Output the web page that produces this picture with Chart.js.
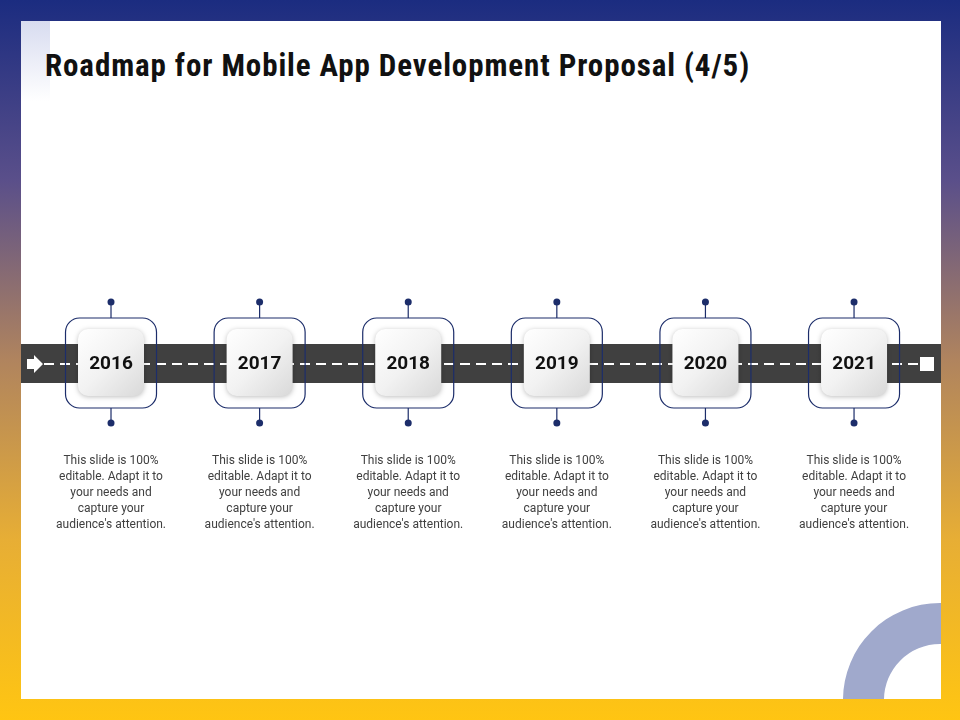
<!DOCTYPE html>
<html><head><meta charset="utf-8">
<script src="https://cdn.jsdelivr.net/npm/chart.js@4"></script>
<style>
html,body{margin:0;padding:0;}
body{width:960px;height:720px;overflow:hidden;background:linear-gradient(180deg,#1b2c80 0%,#5a4f8a 25%,#b0845e 50%,#e7ae35 75%,#ffc512 100%);position:relative;font-family:Roboto,Arial,sans-serif;}
#panel{position:absolute;left:21px;top:21px;width:920px;height:678px;background:#fff;overflow:hidden;}
#deco{position:absolute;left:0;top:0;width:29px;height:80px;background:linear-gradient(180deg,#d8dcf0,#ffffff);}
h1{position:absolute;left:24px;top:26px;margin:0;font-family:"Roboto Condensed","Liberation Sans Narrow",Roboto,sans-serif;font-weight:700;font-size:31px;color:#111;letter-spacing:0.9px;white-space:nowrap;}
canvas{position:absolute;left:0;top:0;}
</style></head><body>
<div id="panel"><div id="deco"></div><h1>Roadmap for Mobile App Development Proposal (4/5)</h1></div>
<canvas id="c" width="960" height="720"></canvas>
<script>
const years = ["2016","2017","2018","2019","2020","2021"];
const positions = [0,1,2,3,4,5];
const descriptions = ["This slide is 100%","editable. Adapt it to","your needs and","capture your","audience's attention."];

function rr(ctx,x,y,w,h,r){ctx.beginPath();ctx.moveTo(x+r,y);ctx.arcTo(x+w,y,x+w,y+h,r);ctx.arcTo(x+w,y+h,x,y+h,r);ctx.arcTo(x,y+h,x,y,r);ctx.arcTo(x,y,x+w,y,r);ctx.closePath();}

const deco = {
  id:'deco',
  beforeDatasetsDraw(chart){
    const ctx=chart.ctx;
    ctx.save();
    ctx.beginPath();ctx.rect(21,21,920,678);ctx.clip();
    ctx.fillStyle='#a0a9cc';
    ctx.beginPath();ctx.arc(940,700,97,0,Math.PI*2);ctx.arc(940,700,56,0,Math.PI*2,true);ctx.fill('evenodd');
    ctx.fillStyle='#404040';
    ctx.fillRect(21,344,920,39);
    ctx.strokeStyle='#fff';ctx.lineWidth=2;ctx.setLineDash([10,6]);
    ctx.beginPath();ctx.moveTo(44,364);ctx.lineTo(920,364);ctx.stroke();ctx.setLineDash([]);
    ctx.fillStyle='#fff';
    ctx.beginPath();ctx.moveTo(27,359);ctx.lineTo(34,359);ctx.lineTo(34,355);ctx.lineTo(43,364);ctx.lineTo(34,373);ctx.lineTo(34,369);ctx.lineTo(27,369);ctx.closePath();ctx.fill();
    ctx.fillRect(920,357,14,14);
    ctx.restore();
  },
  afterDatasetsDraw(chart){
    const ctx=chart.ctx, xs=chart.scales.x;
    positions.forEach((p,i)=>{
      const cx=xs.getPixelForValue(p);
      ctx.save();
      ctx.strokeStyle='#1c2d6a';ctx.lineWidth=1.2;
      ctx.beginPath();ctx.moveTo(cx,302);ctx.lineTo(cx,318);ctx.moveTo(cx,408);ctx.lineTo(cx,423);ctx.stroke();
      ctx.fillStyle='#1c2d6a';
      ctx.beginPath();ctx.arc(cx,302,3.5,0,Math.PI*2);ctx.fill();
      ctx.beginPath();ctx.arc(cx,423,3.5,0,Math.PI*2);ctx.fill();
      rr(ctx,cx-45.5,318,91,90,14);ctx.stroke();
      ctx.shadowColor='rgba(0,0,0,0.25)';ctx.shadowBlur=5;ctx.shadowOffsetY=1;
      const g=ctx.createLinearGradient(cx-33,329,cx+33,396);
      g.addColorStop(0,'#ffffff');g.addColorStop(0.5,'#f2f2f2');g.addColorStop(1,'#d9d9d9');
      ctx.fillStyle=g;rr(ctx,cx-33,329,66,67,10);ctx.fill();
      ctx.shadowColor='transparent';
      ctx.fillStyle='#111';ctx.font='bold 19px Roboto, Arial, sans-serif';
      ctx.textAlign='center';ctx.textBaseline='middle';
      ctx.fillText(years[i],cx,364);
      ctx.fillStyle='#404040';ctx.font='12px "Liberation Sans Narrow", Roboto, Arial, sans-serif';
      descriptions.forEach((t,j)=>ctx.fillText(t,cx,461+j*16));
      ctx.restore();
    });
  }
};

new Chart(document.getElementById('c'),{
  type:'scatter',
  data:{datasets:[{data:positions.map(p=>({x:p,y:364})),pointRadius:0}]},
  options:{
    responsive:false,animation:false,
    layout:{padding:0},
    plugins:{legend:{display:false},tooltip:{enabled:false}},
    scales:{
      x:{type:'linear',min:-0.747,max:5.713,display:false},
      y:{type:'linear',min:0,max:720,reverse:true,display:false}
    }
  },
  plugins:[deco]
});
</script>
</body></html>
